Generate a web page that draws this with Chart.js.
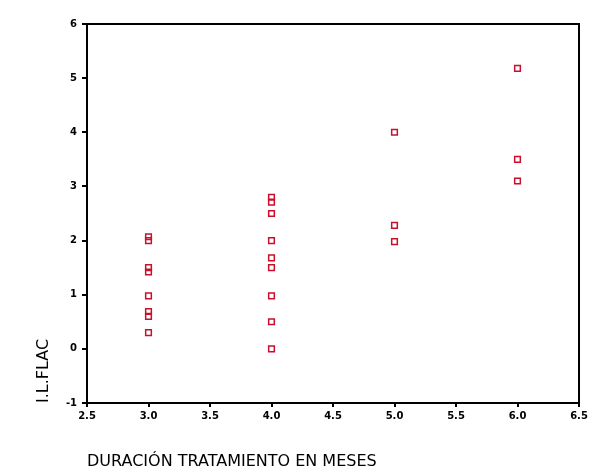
<!DOCTYPE html>
<html lang="es">
<head>
  <meta charset="UTF-8">
  <script src="https://cdn.jsdelivr.net/npm/chart.js"></script>
  <title>I.L.FLAC</title>
  <style>
    body { margin: 0; background: #fff; }
    #caja { width: 605px; height: 476px; }
  </style>
</head>
<body>
  <div id="caja"><canvas id="grafico" width="605" height="476"></canvas></div>

<script>
  // meses de tratamiento y valores de I.L.FLAC
  const meses = [3, 3, 3, 3, 3, 3, 3, 3,
                 4, 4, 4, 4, 4, 4, 4, 4, 4,
                 5, 5, 5,
                 6, 6, 6];
  const ilflac = [2.07, 2.0, 1.5, 1.42, 0.98, 0.69, 0.6, 0.3,
                  2.8, 2.71, 2.5, 2.0, 1.68, 1.5, 0.98, 0.5, 0.0,
                  4.0, 2.28, 1.98,
                  5.18, 3.5, 3.1];
  const ticksX = [2.5, 3.0, 3.5, 4.0, 4.5, 5.0, 5.5, 6.0, 6.5];
  const ticksY = [-1, 0, 1, 2, 3, 4, 5, 6];

  const puntos = meses.map((m, i) => ({ x: m, y: ilflac[i] }));

  // marco completo alrededor del area del grafico
  const marco = {
    id: 'marco',
    afterDraw(chart) {
      const a = chart.chartArea;
      const ctx = chart.ctx;
      ctx.save();
      ctx.strokeStyle = '#000';
      ctx.lineWidth = 2;
      ctx.strokeRect(a.left, a.top, a.right - a.left, a.bottom - a.top);
      ctx.restore();
    }
  };

  const fuenteTick = { family: 'DejaVu Sans', size: 10, weight: 'bold' };
  const fuenteTitulo = { family: 'DejaVu Sans', size: 16 };

  new Chart(document.getElementById('grafico'), {
    type: 'scatter',
    data: {
      datasets: [{
        label: 'I.L.FLAC',
        data: puntos,
        pointStyle: 'rect',
        pointRadius: 4,
        pointHoverRadius: 4,
        borderWidth: 1.5,
        borderColor: '#c8102e',
        backgroundColor: 'rgba(255,255,255,0)'
      }]
    },
    options: {
      responsive: false,
      animation: false,
      layout: { padding: { top: 24, right: 26, bottom: 0, left: 0 } },
      plugins: {
        legend: { display: false },
        tooltip: { enabled: false }
      },
      scales: {
        x: {
          type: 'linear',
          min: 2.5,
          max: 6.5,
          afterBuildTicks: s => { s.ticks = ticksX.map(v => ({ value: v })); },
          afterFit: s => { s.height = 73; },
          ticks: {
            color: '#000',
            font: fuenteTick,
            padding: 3,
            maxRotation: 0,
            callback: v => Number(v).toFixed(1)
          },
          grid: { drawOnChartArea: false, tickLength: 4, color: '#000', lineWidth: 2 },
          border: { color: '#000', width: 2 },
          title: {
            display: true,
            text: 'DURACIÓN TRATAMIENTO EN MESES',
            align: 'start',
            color: '#000',
            font: fuenteTitulo,
            padding: { top: 4, bottom: 5 }
          }
        },
        y: {
          type: 'linear',
          min: -1,
          max: 6,
          afterBuildTicks: s => { s.ticks = ticksY.map(v => ({ value: v })); },
          afterFit: s => { s.width = 87; },
          ticks: {
            color: '#000',
            font: fuenteTick,
            padding: 5,
            callback: v => String(v)
          },
          grid: { drawOnChartArea: false, tickLength: 5, color: '#000', lineWidth: 2 },
          border: { color: '#000', width: 2 },
          title: {
            display: true,
            text: 'I.L.FLAC',
            align: 'start',
            color: '#000',
            font: fuenteTitulo,
            padding: { top: 34, bottom: 4 }
          }
        }
      }
    },
    plugins: [marco]
  });
</script>
</body>
</html>
